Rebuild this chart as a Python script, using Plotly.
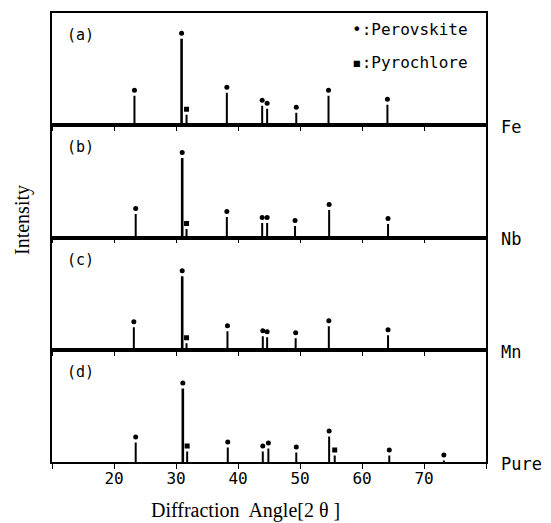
import plotly.graph_objects as go

# ---- data ----
panel_labels = ["(a)", "(b)", "(c)", "(d)"]
sample_names = ["Fe", "Nb", "Mn", "Pure"]

perov_angle_a = [23.3, 30.9, 38.2, 43.9, 44.7, 49.4, 54.6, 64.1]
perov_int_a = [35, 92, 38, 25, 22, 18, 35, 26]
pyro_angle_a = [31.7]
pyro_int_a = [16]

perov_angle_b = [23.5, 31.0, 38.2, 43.9, 44.7, 49.2, 54.7, 64.2]
perov_int_b = [29, 85, 26, 20, 20, 17, 33, 19]
pyro_angle_b = [31.7]
pyro_int_b = [14]

perov_angle_c = [23.2, 31.0, 38.3, 44.0, 44.7, 49.3, 54.65, 64.2]
perov_int_c = [28, 79, 24, 19, 18, 17, 29, 20]
pyro_angle_c = [31.7]
pyro_int_c = [12]

perov_angle_d = [23.5, 31.1, 38.35, 44.0, 44.9, 49.4, 54.7, 64.4, 73.2]
perov_int_d = [25, 79, 20, 16, 19, 15, 31, 12, 7]
pyro_angle_d = [31.8, 55.6]
pyro_int_d = [16, 12]

tick_vals = [10, 20, 30, 40, 50, 60, 70, 80]
tick_text = ["", "20", "30", "40", "50", "60", "70", ""]

panels = [
    (perov_angle_a, perov_int_a, pyro_angle_a, pyro_int_a),
    (perov_angle_b, perov_int_b, pyro_angle_b, pyro_int_b),
    (perov_angle_c, perov_int_c, pyro_angle_c, pyro_int_c),
    (perov_angle_d, perov_int_d, pyro_angle_d, pyro_int_d),
]

# ---- styling ----
W, H = 551, 523
ML, MR, MT, MB = 52, 65, 13, 61
plot_h = H - MT - MB
YMAX = plot_h / 4.0
GAP = 5.5
MONO = "DejaVu Sans Mono"
SERIF = "Liberation Serif"

fig = go.Figure()
layout = dict(
    width=W, height=H,
    margin=dict(l=ML, r=MR, t=MT, b=MB),
    paper_bgcolor="white", plot_bgcolor="white",
    showlegend=False,
)

annotations = []
for i, (pa, pi, qa, qi) in enumerate(panels):
    n = i + 1
    xs = f"x{'' if n == 1 else n}"
    ys = f"y{'' if n == 1 else n}"
    top = 1 - i * 0.25
    bottom = top - 0.25
    main_idx = pi.index(max(pi))

    def stems(ang, inten, skip=None, only=None):
        sx, sy = [], []
        for k, (a, v) in enumerate(zip(ang, inten)):
            if skip is not None and k == skip:
                continue
            if only is not None and k != only:
                continue
            sx += [a, a, None]
            sy += [0, max(v - GAP, 0.5), None]
        return sx, sy

    sx, sy = stems(pa, pi, skip=main_idx)
    qx, qy = stems(qa, qi)
    fig.add_trace(go.Scatter(x=sx + qx, y=sy + qy, mode="lines",
                             line=dict(color="black", width=2),
                             xaxis=xs, yaxis=ys, hoverinfo="skip"))
    mx, my = stems(pa, pi, only=main_idx)
    fig.add_trace(go.Scatter(x=mx, y=my, mode="lines",
                             line=dict(color="black", width=2.6),
                             xaxis=xs, yaxis=ys, hoverinfo="skip"))
    fig.add_trace(go.Scatter(x=pa, y=pi, mode="markers",
                             marker=dict(symbol="circle", size=5, color="black"),
                             xaxis=xs, yaxis=ys))
    fig.add_trace(go.Scatter(x=qa, y=qi, mode="markers",
                             marker=dict(symbol="square", size=5, color="black"),
                             xaxis=xs, yaxis=ys))

    xkey = "xaxis" if n == 1 else f"xaxis{n}"
    ykey = "yaxis" if n == 1 else f"yaxis{n}"
    layout[xkey] = dict(
        domain=[0, 1], anchor=ys, range=[10, 80],
        showline=True, linecolor="black", linewidth=1.5, mirror=True,
        ticks="outside", ticklen=5 if n == 4 else 4, tickwidth=1.3, tickcolor="black",
        tickvals=tick_vals, ticktext=tick_text,
        showticklabels=(n == 4), showgrid=False, zeroline=False,
        ticklabelstandoff=-4,
        tickfont=dict(family=MONO, size=16, color="black"),
    )
    if n > 1:
        layout[xkey]["matches"] = "x"
    layout[ykey] = dict(
        domain=[bottom, top], anchor=xs, range=[0, YMAX],
        showline=True, linecolor="black", linewidth=1.5, mirror=True,
        showticklabels=False, ticks="", showgrid=False, zeroline=False,
    )

    annotations.append(dict(
        text=panel_labels[i], xref="paper", yref="paper",
        x=(80 - ML) / (W - ML - MR), y=top - 22 / plot_h,
        xanchor="center", yanchor="middle", showarrow=False,
        font=dict(family=MONO, size=15, color="black")))
    annotations.append(dict(
        text=sample_names[i], xref="paper", yref="paper",
        x=(499 - ML) / (W - ML - MR), y=bottom - 2 / plot_h,
        xanchor="left", yanchor="middle", showarrow=False,
        font=dict(family=MONO, size=17, color="black")))

pw = W - ML - MR
annotations += [
    dict(text="•:Perovskite", xref="paper", yref="paper",
         x=(350 - ML) / pw, y=1 - (30 - MT) / plot_h,
         xanchor="left", yanchor="middle", showarrow=False,
         font=dict(family=MONO, size=16, color="black")),
    dict(text="▪:Pyrochlore", xref="paper", yref="paper",
         x=(350 - ML) / pw, y=1 - (62 - MT) / plot_h,
         xanchor="left", yanchor="middle", showarrow=False,
         font=dict(family=MONO, size=16, color="black")),
    dict(text="Diffraction  Angle[2 θ ]", xref="paper", yref="paper",
         x=(245 - ML) / pw, y=-(510 - (H - MB)) / plot_h,
         xanchor="center", yanchor="middle", showarrow=False,
         font=dict(family=SERIF, size=20, color="black")),
    dict(text="Intensity", xref="paper", yref="paper",
         x=(22 - ML) / pw, y=1 - (220 - MT) / plot_h,
         xanchor="center", yanchor="middle", showarrow=False, textangle=-90,
         font=dict(family=SERIF, size=20, color="black")),
]
layout["annotations"] = annotations
fig.update_layout(**layout)
fig.write_html("out.html")
